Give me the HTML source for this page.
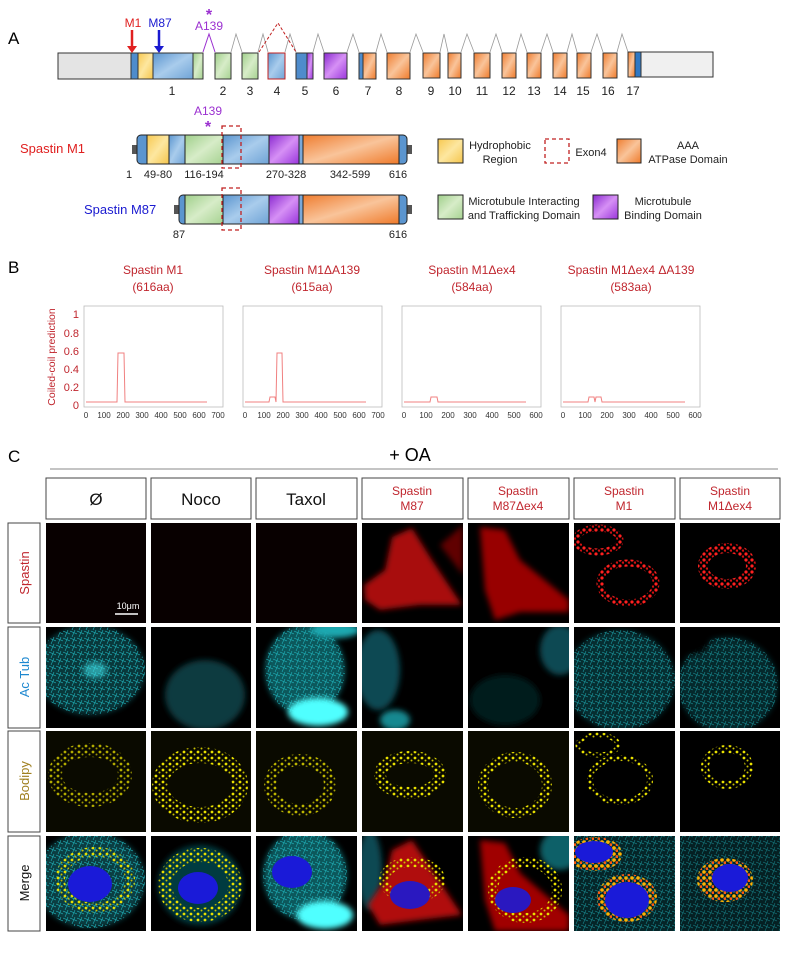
<!DOCTYPE html>
<html><head><meta charset="utf-8"><style>
html,body{margin:0;padding:0;background:#fff;}
svg{display:block;font-family:"Liberation Sans",Arial,sans-serif;}
</style></head><body>
<svg width="791" height="954" viewBox="0 0 791 954" xmlns="http://www.w3.org/2000/svg">
<defs>
<linearGradient id="gb" x1="0" y1="0" x2="1" y2="1"><stop offset="0" stop-color="#5b95cf"/><stop offset=".5" stop-color="#a9ccec"/><stop offset="1" stop-color="#6fa3d6"/></linearGradient>
<linearGradient id="gy" x1="0" y1="0" x2="1" y2="1"><stop offset="0" stop-color="#f7c850"/><stop offset=".5" stop-color="#fde7a0"/><stop offset="1" stop-color="#f5c54c"/></linearGradient>
<linearGradient id="gg" x1="0" y1="0" x2="1" y2="1"><stop offset="0" stop-color="#9fcf8a"/><stop offset=".5" stop-color="#d7ecc8"/><stop offset="1" stop-color="#a6d291"/></linearGradient>
<linearGradient id="gp" x1="0" y1="0" x2="1" y2="1"><stop offset="0" stop-color="#8a2ad0"/><stop offset=".5" stop-color="#d690f5"/><stop offset="1" stop-color="#9a35dc"/></linearGradient>
<linearGradient id="go" x1="0" y1="0" x2="1" y2="1"><stop offset="0" stop-color="#ef7d30"/><stop offset=".5" stop-color="#f9c49a"/><stop offset="1" stop-color="#ef7a2a"/></linearGradient>
<pattern id="dy" width="7" height="6" patternUnits="userSpaceOnUse"><circle cx="2" cy="2" r="1.4" fill="#e8e000"/><circle cx="5.5" cy="4.5" r="1" fill="#c8c000"/></pattern>
<pattern id="dr" width="6" height="6" patternUnits="userSpaceOnUse"><circle cx="2" cy="2" r="1.6" fill="#ff2020"/><circle cx="5" cy="4.6" r="1.2" fill="#d01010"/></pattern>
<pattern id="do" width="6" height="6" patternUnits="userSpaceOnUse"><circle cx="2" cy="2" r="1.8" fill="#ffb000"/><circle cx="5" cy="4.6" r="1.4" fill="#ff5a10"/></pattern>
<pattern id="dc" width="7" height="7" patternUnits="userSpaceOnUse"><path d="M0 1 L7 4 M2 7 L5 0" stroke="#1fb0b8" stroke-width=".6"/></pattern>
<filter id="bl" x="-50%" y="-50%" width="200%" height="200%"><feGaussianBlur stdDeviation="3"/></filter>
</defs>

<!-- Panel A -->
<text x="8" y="44" font-size="17">A</text>
<g stroke="#999" fill="none" stroke-width=".8">
<polyline points="231,52 236,34 242,52"/><polyline points="258,52 263,34 268,52"/>
<polyline points="285,52 290,34 296,52"/><polyline points="313,52 318,34 324,52"/><polyline points="347,52 353,34 359,52"/>
<polyline points="376,52 381,34 387,52"/><polyline points="410,52 416,34 423,52"/><polyline points="440,52 444,34 448,52"/>
<polyline points="461,52 467,34 474,52"/><polyline points="490,52 496,34 502,52"/><polyline points="516,52 521,34 527,52"/>
<polyline points="541,52 547,34 553,52"/><polyline points="567,52 572,34 577,52"/><polyline points="591,52 597,34 603,52"/><polyline points="617,52 622,34 628,52"/>
</g>
<polyline points="203,52 209,34 215,52" stroke="#9b30d0" fill="none"/>
<polyline points="259,52 278,23 296,52" stroke="#c02020" fill="none" stroke-dasharray="3,2"/>
<g stroke="#333" stroke-width="1">
<rect x="58" y="53" width="73" height="26" fill="#e4e4e4"/>
<rect x="131" y="53" width="7" height="26" fill="#4f8ccc"/>
<rect x="138" y="53" width="15" height="26" fill="url(#gy)"/>
<rect x="153" y="53" width="40" height="26" fill="url(#gb)"/>
<rect x="193" y="53" width="10" height="26" fill="url(#gg)"/>
<rect x="215" y="53" width="16" height="26" fill="url(#gg)"/>
<rect x="242" y="53" width="16" height="26" fill="url(#gg)"/>
<rect x="268" y="53" width="17" height="26" fill="url(#gb)" stroke="#c02020"/>
<rect x="296" y="53" width="11" height="26" fill="#4f8ccc"/>
<rect x="307" y="53" width="6" height="26" fill="url(#gp)"/>
<rect x="324" y="53" width="23" height="26" fill="url(#gp)"/>
<rect x="359" y="53" width="4" height="26" fill="#4f8ccc"/>
<rect x="363" y="53" width="13" height="26" fill="url(#go)"/>
<rect x="387" y="53" width="23" height="26" fill="url(#go)"/>
<rect x="423" y="53" width="17" height="25" fill="url(#go)"/>
<rect x="448" y="53" width="13" height="25" fill="url(#go)"/>
<rect x="474" y="53" width="16" height="25" fill="url(#go)"/>
<rect x="502" y="53" width="14" height="25" fill="url(#go)"/>
<rect x="527" y="53" width="14" height="25" fill="url(#go)"/>
<rect x="553" y="53" width="14" height="25" fill="url(#go)"/>
<rect x="577" y="53" width="14" height="25" fill="url(#go)"/>
<rect x="603" y="53" width="14" height="25" fill="url(#go)"/>
<rect x="628" y="52" width="7" height="25" fill="url(#go)"/>
<rect x="635" y="52" width="6" height="25" fill="#2f78c4"/>
<rect x="641" y="52" width="72" height="25" fill="#f0f0f0"/>
</g>
<g font-size="12" fill="#222" text-anchor="middle">
<text x="172" y="95">1</text><text x="223" y="95">2</text><text x="250" y="95">3</text><text x="277" y="95">4</text><text x="305" y="95">5</text><text x="336" y="95">6</text><text x="368" y="95">7</text><text x="399" y="95">8</text><text x="431" y="95">9</text><text x="455" y="95">10</text><text x="482" y="95">11</text><text x="509" y="95">12</text><text x="534" y="95">13</text><text x="560" y="95">14</text><text x="583" y="95">15</text><text x="608" y="95">16</text><text x="633" y="95">17</text>
</g>
<text x="133" y="27" font-size="12" fill="#e02020" text-anchor="middle">M1</text>
<line x1="132" y1="30" x2="132" y2="48" stroke="#e02020" stroke-width="2.5"/><path d="M127,46 L137,46 L132,53Z" fill="#e02020"/>
<text x="160" y="27" font-size="12" fill="#1a1ad0" text-anchor="middle">M87</text>
<line x1="159" y1="30" x2="159" y2="48" stroke="#1a1ad0" stroke-width="2.5"/><path d="M154,46 L164,46 L159,53Z" fill="#1a1ad0"/>
<text x="209" y="20" font-size="16" fill="#9b30d0" text-anchor="middle" font-weight="bold">*</text>
<text x="209" y="30" font-size="12" fill="#9b30d0" text-anchor="middle">A139</text>

<!-- protein M1 -->
<text x="208" y="115" font-size="12" fill="#9b30d0" text-anchor="middle">A139</text>
<text x="208" y="132" font-size="16" fill="#9b30d0" text-anchor="middle" font-weight="bold">*</text>
<text x="20" y="153" font-size="13" fill="#e02020">Spastin M1</text>
<rect x="132" y="145" width="6" height="9" fill="#555"/><rect x="406" y="145" width="6" height="9" fill="#555"/>
<rect x="137" y="135" width="270" height="29" rx="4" fill="#5b95cf" stroke="#222"/>
<g stroke="#222">
<rect x="147" y="135" width="22" height="29" fill="url(#gy)"/>
<rect x="169" y="135" width="16" height="29" fill="url(#gb)"/>
<rect x="185" y="135" width="38" height="29" fill="url(#gg)"/>
<rect x="223" y="135" width="46" height="29" fill="url(#gb)"/>
<rect x="269" y="135" width="30" height="29" fill="url(#gp)"/>
<rect x="299" y="135" width="4" height="29" fill="#7aa8d8"/>
<rect x="303" y="135" width="96" height="29" fill="url(#go)"/>
</g>
<rect x="222" y="126" width="19" height="42" fill="none" stroke="#c02020" stroke-width="1.3" stroke-dasharray="4,3"/>
<g font-size="11" fill="#222" text-anchor="middle">
<text x="129" y="178">1</text><text x="158" y="178">49-80</text><text x="204" y="178">116-194</text><text x="286" y="178">270-328</text><text x="350" y="178">342-599</text><text x="398" y="178">616</text>
<text x="179" y="238">87</text><text x="398" y="238">616</text></g>
<!-- M87 -->
<text x="84" y="214" font-size="13" fill="#1a1ad0">Spastin M87</text>
<rect x="174" y="205" width="6" height="9" fill="#555"/><rect x="406" y="205" width="6" height="9" fill="#555"/>
<rect x="179" y="195" width="228" height="29" rx="4" fill="#5b95cf" stroke="#222"/>
<g stroke="#222">
<rect x="185" y="195" width="38" height="29" fill="url(#gg)"/>
<rect x="223" y="195" width="46" height="29" fill="url(#gb)"/>
<rect x="269" y="195" width="30" height="29" fill="url(#gp)"/>
<rect x="299" y="195" width="4" height="29" fill="#7aa8d8"/>
<rect x="303" y="195" width="96" height="29" fill="url(#go)"/>
</g>
<rect x="222" y="188" width="19" height="42" fill="none" stroke="#c02020" stroke-width="1.3" stroke-dasharray="4,3"/>
<!-- legend -->
<g stroke="#222">
<rect x="438" y="139" width="25" height="24" fill="url(#gy)"/>
<rect x="617" y="139" width="24" height="24" fill="url(#go)"/>
<rect x="438" y="195" width="25" height="24" fill="url(#gg)"/>
<rect x="593" y="195" width="25" height="24" fill="url(#gp)"/>
</g>
<rect x="545" y="139" width="24" height="24" fill="none" stroke="#c02020" stroke-width="1.3" stroke-dasharray="4,3"/>
<g font-size="11" fill="#222" text-anchor="middle">
<text x="500" y="149">Hydrophobic</text><text x="500" y="163">Region</text>
<text x="591" y="156">Exon4</text>
<text x="688" y="149">AAA</text><text x="688" y="163">ATPase Domain</text>
<text x="524" y="205">Microtubule Interacting</text><text x="524" y="219">and Trafficking Domain</text>
<text x="663" y="205">Microtubule</text><text x="663" y="219">Binding Domain</text>
</g>

<!-- Panel B -->
<text x="8" y="273" font-size="17">B</text>
<g font-size="12" fill="#c0262e" text-anchor="middle">
<text x="153" y="274">Spastin M1</text><text x="153" y="291">(616aa)</text>
<text x="312" y="274">Spastin M1ΔA139</text><text x="312" y="291">(615aa)</text>
<text x="472" y="274">Spastin M1Δex4</text><text x="472" y="291">(584aa)</text>
<text x="631" y="274">Spastin M1Δex4 ΔA139</text><text x="631" y="291">(583aa)</text>
</g>
<text transform="translate(55,357) rotate(-90)" font-size="10.5" fill="#c0262e" text-anchor="middle">Coiled-coil prediction</text>
<g font-size="11" fill="#c0262e" text-anchor="end">
<text x="79" y="318">1</text><text x="79" y="337">0.8</text><text x="79" y="355">0.6</text><text x="79" y="373">0.4</text><text x="79" y="391">0.2</text><text x="79" y="409">0</text>
</g>
<g fill="none" stroke="#bbb" stroke-width=".8">
<rect x="84" y="306" width="139" height="101"/><rect x="243" y="306" width="139" height="101"/><rect x="402" y="306" width="139" height="101"/><rect x="561" y="306" width="139" height="101"/>
</g>
<g fill="none" stroke="#f08080" stroke-width="1">
<polyline points="86,402 117,402 118,353 124,353 125,402 207,402"/>
<polyline points="245,402 269,402 270,397 275,397 276,402 277,353 282,353 283,402 366,402"/>
<polyline points="404,402 430,402 431,397 437,397 438,402 526,402"/>
<polyline points="563,402 588,402 589,397 594,397 595,402 596,397 601,397 602,402 685,402"/>
</g>
<g font-size="8" fill="#333" text-anchor="middle">
<text x="86" y="418">0</text><text x="104" y="418">100</text><text x="123" y="418">200</text><text x="142" y="418">300</text><text x="161" y="418">400</text><text x="180" y="418">500</text><text x="199" y="418">600</text><text x="218" y="418">700</text>
<text x="245" y="418">0</text><text x="264" y="418">100</text><text x="283" y="418">200</text><text x="302" y="418">300</text><text x="321" y="418">400</text><text x="340" y="418">500</text><text x="359" y="418">600</text><text x="378" y="418">700</text>
<text x="404" y="418">0</text><text x="426" y="418">100</text><text x="448" y="418">200</text><text x="470" y="418">300</text><text x="492" y="418">400</text><text x="514" y="418">500</text><text x="536" y="418">600</text>
<text x="563" y="418">0</text><text x="585" y="418">100</text><text x="607" y="418">200</text><text x="629" y="418">300</text><text x="651" y="418">400</text><text x="673" y="418">500</text><text x="695" y="418">600</text>
</g>

<!-- Panel C -->
<text x="8" y="462" font-size="17">C</text>
<text x="410" y="461" font-size="18" text-anchor="middle">+ OA</text>
<line x1="50" y1="469" x2="778" y2="469" stroke="#888" stroke-width="1"/>
<g fill="#fff" stroke="#444" stroke-width="1">
<rect x="46" y="478" width="100" height="41"/><rect x="151" y="478" width="100" height="41"/><rect x="256" y="478" width="101" height="41"/>
<rect x="362" y="478" width="101" height="41"/><rect x="468" y="478" width="101" height="41"/><rect x="574" y="478" width="101" height="41"/><rect x="680" y="478" width="100" height="41"/>
<rect x="8" y="523" width="32" height="100"/><rect x="8" y="627" width="32" height="101"/><rect x="8" y="731" width="32" height="101"/><rect x="8" y="836" width="32" height="95"/>
</g>
<g font-size="17" text-anchor="middle" fill="#111">
<text x="96" y="505">Ø</text><text x="201" y="505">Noco</text><text x="306" y="505">Taxol</text>
</g>
<g font-size="12" text-anchor="middle" fill="#c0262e">
<text x="412" y="495">Spastin</text><text x="412" y="510">M87</text>
<text x="518" y="495">Spastin</text><text x="518" y="510">M87Δex4</text>
<text x="624" y="495">Spastin</text><text x="624" y="510">M1</text>
<text x="730" y="495">Spastin</text><text x="730" y="510">M1Δex4</text>
</g>
<g font-size="13" text-anchor="middle">
<text transform="translate(29,573) rotate(-90)" fill="#c0262e">Spastin</text>
<text transform="translate(29,677) rotate(-90)" fill="#1e88d0">Ac Tub</text>
<text transform="translate(29,781) rotate(-90)" fill="#a08020">Bodipy</text>
<text transform="translate(29,883) rotate(-90)" fill="#111">Merge</text>
</g>

<!-- Row 1: Spastin -->
<svg x="46" y="523" width="100" height="100" viewBox="46 523 100 100"><rect x="46" y="523" width="100" height="100" fill="#080000"/>
<text x="128" y="609" font-size="9" fill="#fff" text-anchor="middle">10μm</text><line x1="115" y1="614" x2="138" y2="614" stroke="#fff" stroke-width="1.5"/></svg>
<svg x="151" y="523" width="100" height="100" viewBox="151 523 100 100"><rect x="151" y="523" width="100" height="100" fill="#080000"/></svg>
<svg x="256" y="523" width="101" height="100" viewBox="256 523 101 100"><rect x="256" y="523" width="101" height="100" fill="#080000"/></svg>
<svg x="362" y="523" width="101" height="100" viewBox="362 523 101 100"><rect x="362" y="523" width="101" height="100" fill="#000"/>
<path d="M392,537 L412,528 L432,560 L462,605 L420,605 L380,610 L365,600 L364,585 L385,570Z" fill="#a80808" filter="url(#bl)"/>
<path d="M440,545 L463,525 L463,575Z" fill="#600404" filter="url(#bl)"/></svg>
<svg x="468" y="523" width="101" height="100" viewBox="468 523 101 100"><rect x="468" y="523" width="101" height="100" fill="#000"/>
<path d="M480,527 L505,530 L520,560 L569,600 L569,612 L520,612 L495,620 L485,590Z" fill="#980606" filter="url(#bl)"/></svg>
<svg x="574" y="523" width="101" height="100" viewBox="574 523 101 100"><rect x="574" y="523" width="101" height="100" fill="#000"/>
<ellipse cx="598" cy="540" rx="22" ry="12" fill="none" stroke="url(#dr)" stroke-width="7"/>
<ellipse cx="628" cy="583" rx="28" ry="20" fill="none" stroke="url(#dr)" stroke-width="7"/></svg>
<svg x="680" y="523" width="100" height="100" viewBox="680 523 100 100"><rect x="680" y="523" width="100" height="100" fill="#000"/>
<ellipse cx="727" cy="566" rx="24" ry="18" fill="none" stroke="url(#dr)" stroke-width="10"/></svg>

<!-- Row 2: Ac Tub -->
<svg x="46" y="627" width="100" height="101" viewBox="46 627 100 101"><rect x="46" y="627" width="100" height="101" fill="#000"/>
<ellipse cx="90" cy="670" rx="55" ry="45" fill="#137c84" opacity=".45" filter="url(#bl)"/>
<ellipse cx="90" cy="670" rx="55" ry="45" fill="url(#dc)"/>
<ellipse cx="95" cy="670" rx="12" ry="8" fill="#40e0e8" opacity=".6" filter="url(#bl)"/></svg>
<svg x="151" y="627" width="100" height="101" viewBox="151 627 100 101"><rect x="151" y="627" width="100" height="101" fill="#000"/>
<ellipse cx="205" cy="695" rx="40" ry="35" fill="#0b3a40" filter="url(#bl)"/></svg>
<svg x="256" y="627" width="101" height="101" viewBox="256 627 101 101"><rect x="256" y="627" width="101" height="101" fill="#000"/>
<ellipse cx="305" cy="670" rx="40" ry="45" fill="#17a0a8" opacity=".55" filter="url(#bl)"/>
<ellipse cx="305" cy="670" rx="40" ry="45" fill="url(#dc)"/>
<ellipse cx="318" cy="712" rx="30" ry="14" fill="#50ffff" filter="url(#bl)"/>
<ellipse cx="335" cy="630" rx="25" ry="8" fill="#1aa8b0" filter="url(#bl)"/></svg>
<svg x="362" y="627" width="101" height="101" viewBox="362 627 101 101"><rect x="362" y="627" width="101" height="101" fill="#000"/>
<ellipse cx="378" cy="670" rx="22" ry="40" fill="#0b4a52" filter="url(#bl)"/>
<ellipse cx="395" cy="720" rx="15" ry="10" fill="#128890" filter="url(#bl)"/></svg>
<svg x="468" y="627" width="101" height="101" viewBox="468 627 101 101"><rect x="468" y="627" width="101" height="101" fill="#000"/>
<ellipse cx="560" cy="650" rx="20" ry="25" fill="#0b4a52" filter="url(#bl)"/>
<ellipse cx="505" cy="700" rx="35" ry="25" fill="#031a1d" filter="url(#bl)"/></svg>
<svg x="574" y="627" width="101" height="101" viewBox="574 627 101 101"><rect x="574" y="627" width="101" height="101" fill="#000"/>
<ellipse cx="620" cy="680" rx="55" ry="50" fill="#0d5c64" opacity=".5" filter="url(#bl)"/>
<ellipse cx="620" cy="680" rx="55" ry="50" fill="url(#dc)" opacity=".8"/></svg>
<svg x="680" y="627" width="100" height="101" viewBox="680 627 100 101"><rect x="680" y="627" width="100" height="101" fill="#000"/>
<ellipse cx="728" cy="685" rx="50" ry="48" fill="#0d5c64" opacity=".45" filter="url(#bl)"/>
<ellipse cx="728" cy="685" rx="50" ry="48" fill="url(#dc)" opacity=".7"/>
<ellipse cx="695" cy="640" rx="14" ry="14" fill="#000" filter="url(#bl)"/></svg>

<!-- Row 3: Bodipy -->
<svg x="46" y="731" width="100" height="101" viewBox="46 731 100 101"><rect x="46" y="731" width="100" height="101" fill="#0a0a00"/>
<ellipse cx="90" cy="775" rx="35" ry="25" fill="none" stroke="url(#dy)" stroke-width="14" opacity=".75"/></svg>
<svg x="151" y="731" width="100" height="101" viewBox="151 731 100 101"><rect x="151" y="731" width="100" height="101" fill="#0a0a00"/>
<ellipse cx="200" cy="785" rx="40" ry="30" fill="none" stroke="url(#dy)" stroke-width="16"/></svg>
<svg x="256" y="731" width="101" height="101" viewBox="256 731 101 101"><rect x="256" y="731" width="101" height="101" fill="#0a0a00"/>
<ellipse cx="300" cy="785" rx="30" ry="25" fill="none" stroke="url(#dy)" stroke-width="12" opacity=".8"/></svg>
<svg x="362" y="731" width="101" height="101" viewBox="362 731 101 101"><rect x="362" y="731" width="101" height="101" fill="#0a0a00"/>
<ellipse cx="410" cy="775" rx="30" ry="18" fill="none" stroke="url(#dy)" stroke-width="12"/></svg>
<svg x="468" y="731" width="101" height="101" viewBox="468 731 101 101"><rect x="468" y="731" width="101" height="101" fill="#0a0a00"/>
<ellipse cx="515" cy="785" rx="32" ry="28" fill="none" stroke="url(#dy)" stroke-width="10"/></svg>
<svg x="574" y="731" width="101" height="101" viewBox="574 731 101 101"><rect x="574" y="731" width="101" height="101" fill="#000"/>
<ellipse cx="620" cy="780" rx="30" ry="22" fill="none" stroke="url(#dy)" stroke-width="6"/>
<ellipse cx="598" cy="745" rx="20" ry="10" fill="none" stroke="url(#dy)" stroke-width="5"/></svg>
<svg x="680" y="731" width="100" height="101" viewBox="680 731 100 101"><rect x="680" y="731" width="100" height="101" fill="#000"/>
<ellipse cx="727" cy="767" rx="22" ry="18" fill="none" stroke="url(#dy)" stroke-width="8"/></svg>

<!-- Row 4: Merge -->
<svg x="46" y="836" width="100" height="95" viewBox="46 836 100 95"><rect x="46" y="836" width="100" height="95" fill="#000"/>
<ellipse cx="90" cy="880" rx="55" ry="48" fill="#137c84" opacity=".5" filter="url(#bl)"/>
<ellipse cx="90" cy="880" rx="55" ry="48" fill="url(#dc)"/>
<ellipse cx="95" cy="880" rx="35" ry="28" fill="none" stroke="url(#dy)" stroke-width="10"/>
<ellipse cx="90" cy="884" rx="22" ry="18" fill="#1a1ad8"/></svg>
<svg x="151" y="836" width="100" height="95" viewBox="151 836 100 95"><rect x="151" y="836" width="100" height="95" fill="#000"/>
<ellipse cx="200" cy="885" rx="42" ry="40" fill="#063a40" filter="url(#bl)"/>
<ellipse cx="200" cy="885" rx="35" ry="30" fill="none" stroke="url(#dy)" stroke-width="14"/>
<ellipse cx="198" cy="888" rx="20" ry="16" fill="#1a1ad8"/></svg>
<svg x="256" y="836" width="101" height="95" viewBox="256 836 101 95"><rect x="256" y="836" width="101" height="95" fill="#000"/>
<ellipse cx="305" cy="875" rx="42" ry="45" fill="#17a0a8" opacity=".55" filter="url(#bl)"/>
<ellipse cx="305" cy="875" rx="42" ry="45" fill="url(#dc)"/>
<ellipse cx="325" cy="915" rx="28" ry="14" fill="#50ffff" filter="url(#bl)"/>
<ellipse cx="292" cy="872" rx="20" ry="16" fill="#1a1ad8"/></svg>
<svg x="362" y="836" width="101" height="95" viewBox="362 836 101 95"><rect x="362" y="836" width="101" height="95" fill="#000"/>
<ellipse cx="370" cy="870" rx="12" ry="40" fill="#0b4a52" filter="url(#bl)"/>
<path d="M392,850 L412,840 L432,870 L462,915 L420,920 L380,925 L368,905 L385,880Z" fill="#b00808" filter="url(#bl)"/>
<ellipse cx="412" cy="880" rx="28" ry="18" fill="none" stroke="url(#dy)" stroke-width="10"/>
<ellipse cx="410" cy="895" rx="20" ry="14" fill="#2a18c0"/></svg>
<svg x="468" y="836" width="101" height="95" viewBox="468 836 101 95"><rect x="468" y="836" width="101" height="95" fill="#000"/>
<ellipse cx="560" cy="850" rx="20" ry="20" fill="#0d6068" filter="url(#bl)"/>
<path d="M480,840 L505,843 L520,873 L569,915 L569,931 L495,931 L485,900Z" fill="#a00606" filter="url(#bl)"/>
<ellipse cx="525" cy="890" rx="32" ry="28" fill="none" stroke="url(#dy)" stroke-width="10"/>
<ellipse cx="513" cy="900" rx="18" ry="13" fill="#2a18c0"/></svg>
<svg x="574" y="836" width="101" height="95" viewBox="574 836 101 95"><rect x="574" y="836" width="101" height="95" fill="#000"/>
<rect x="574" y="836" width="101" height="95" fill="#0d5c64" opacity=".4"/>
<rect x="574" y="836" width="101" height="95" fill="url(#dc)" opacity=".7"/>
<ellipse cx="595" cy="854" rx="24" ry="14" fill="url(#do)" stroke="url(#do)" stroke-width="6"/>
<ellipse cx="594" cy="852" rx="19" ry="11" fill="#1a1ad8"/>
<ellipse cx="627" cy="898" rx="30" ry="24" fill="url(#do)"/>
<ellipse cx="627" cy="900" rx="22" ry="18" fill="#1a1ad8"/></svg>
<svg x="680" y="836" width="100" height="95" viewBox="680 836 100 95"><rect x="680" y="836" width="100" height="95" fill="#000"/>
<rect x="680" y="836" width="100" height="95" fill="#0d5c64" opacity=".35"/>
<rect x="680" y="836" width="100" height="95" fill="url(#dc)" opacity=".6"/>
<ellipse cx="725" cy="880" rx="28" ry="22" fill="url(#do)"/>
<ellipse cx="730" cy="878" rx="18" ry="14" fill="#1a1ad8"/></svg>
</svg>
</body></html>
